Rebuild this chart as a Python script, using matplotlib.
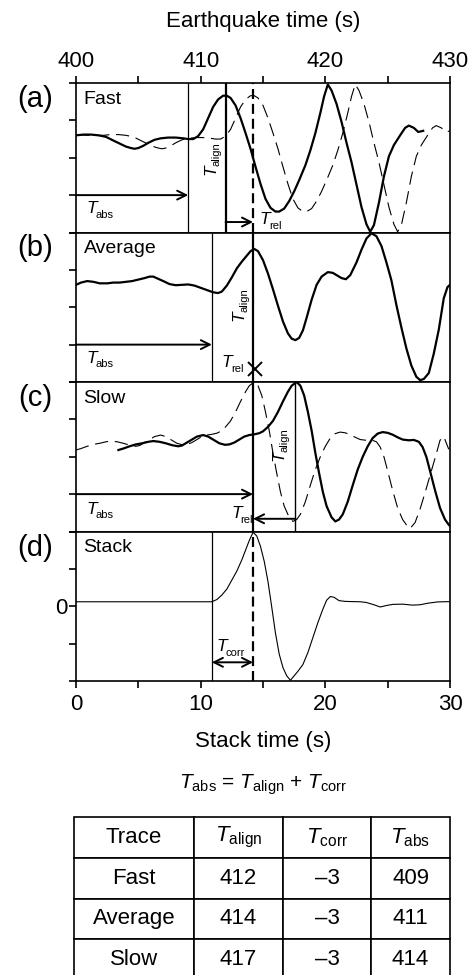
import matplotlib
matplotlib.use("Agg")
import matplotlib.pyplot as plt
import numpy as np

plt.rcParams["font.family"] = ["Liberation Sans", "DejaVu Sans"]
plt.rcParams["mathtext.fontset"] = "custom"
plt.rcParams["mathtext.rm"] = "Liberation Sans"
plt.rcParams["mathtext.it"] = "Liberation Sans:italic"

# stack time (s) = earthquake time - 400
T0 = 400

# traces, normalised amplitude (-1..1)
fast_t = [-2.2, -1.2, 0.0, 0.6, 1.2, 1.8, 2.4, 3.0, 3.5, 4.0, 4.4, 4.7, 5.0, 5.4, 5.8,
          6.3, 6.8, 7.4, 8.0, 8.6, 9.0, 9.4, 9.8, 10.2, 10.6, 11.0, 11.4, 11.8, 12.1,
          12.4, 12.8, 13.2, 13.6, 14.0, 14.4, 14.8, 15.2, 15.6, 16.0, 16.3, 16.7, 17.1,
          17.5, 17.9, 18.4, 18.8, 19.2, 19.6, 19.9, 20.2, 20.5, 20.9, 21.3, 21.7, 22.1,
          22.5, 22.9, 23.3, 23.6, 23.9, 24.3, 24.7, 25.1, 25.5, 26.0, 26.4, 26.7, 27.1,
          27.45, 27.85]
fast_v = [0.31, 0.30, 0.30, 0.31, 0.31, 0.30, 0.28, 0.23, 0.19, 0.15, 0.13, 0.12, 0.13,
          0.16, 0.20, 0.24, 0.26, 0.27, 0.27, 0.26, 0.25, 0.25, 0.29, 0.38, 0.53, 0.68,
          0.78, 0.83, 0.83, 0.80, 0.70, 0.53, 0.33, 0.12, -0.12, -0.35, -0.55, -0.67,
          -0.72, -0.72, -0.68, -0.58, -0.45, -0.30, -0.10, 0.10, 0.33, 0.60, 0.82, 0.98,
          0.90, 0.72, 0.48, 0.20, -0.06, -0.36, -0.66, -0.89, -0.99, -0.90, -0.60, -0.25,
          0.02, 0.17, 0.30, 0.40, 0.43, 0.40, 0.345, 0.36]

avg_t = [0.0, 0.4, 0.9, 1.4, 1.9, 2.5, 3.0, 3.5, 4.0, 4.5, 5.0, 5.5, 5.9, 6.2, 6.6, 7.0,
         7.5, 8.0, 8.5, 9.0, 9.5, 10.0, 10.5, 11.0, 11.4, 11.7, 12.1, 12.5, 12.9, 13.3,
         13.7, 14.0, 14.3, 14.6, 15.0, 15.4, 15.8, 16.2, 16.6, 17.0, 17.3, 17.6, 17.9,
         18.2, 18.5, 18.9, 19.3, 19.7, 20.2, 20.6, 21.0, 21.3, 21.65, 22.0, 22.5, 22.9,
         23.3, 23.7, 24.1, 24.5, 24.9, 25.3, 25.7, 26.1, 26.5, 26.9, 27.3, 27.6, 27.9,
         28.3, 28.7, 29.1, 29.5, 29.8, 30.0]
avg_v = [0.30, 0.33, 0.35, 0.34, 0.32, 0.32, 0.33, 0.33, 0.34, 0.35, 0.37, 0.39, 0.41,
         0.41, 0.38, 0.35, 0.31, 0.295, 0.30, 0.305, 0.29, 0.26, 0.23, 0.20, 0.19, 0.21,
         0.29, 0.40, 0.52, 0.61, 0.69, 0.75, 0.78, 0.75, 0.63, 0.45, 0.24, 0.02, -0.19,
         -0.35, -0.42, -0.44, -0.41, -0.31, -0.14, 0.10, 0.30, 0.41, 0.47, 0.46, 0.42,
         0.39, 0.375, 0.43, 0.60, 0.77, 0.92, 0.99, 0.95, 0.82, 0.60, 0.36, 0.03, -0.27,
         -0.55, -0.78, -0.93, -0.975, -0.96, -0.88, -0.62, -0.30, 0.12, 0.27, 0.30]

slow_t = [3.4, 3.8, 4.3, 4.8, 5.3, 5.8, 6.2, 6.7, 7.2, 7.7, 8.2, 8.5, 8.9, 9.3, 9.7, 10.2,
          10.6, 11.0, 11.5, 11.95, 12.3, 12.7, 13.1, 13.5, 13.9, 14.3, 14.7, 15.0, 15.4,
          15.8, 16.2, 16.6, 17.0, 17.3, 17.7, 18.0, 18.3, 18.6, 18.9, 19.2, 19.5, 19.8,
          20.1, 20.5, 20.8, 21.1, 21.4, 21.8, 22.2, 22.6, 23.0, 23.4, 23.8, 24.2, 24.6,
          25.0, 25.4, 25.8, 26.2, 26.7, 27.1, 27.5, 27.8, 28.1, 28.4, 28.8, 29.2, 29.6,
          29.9, 30.2, 30.6, 31.0, 31.4, 31.8, 32.2, 32.6, 32.9, 33.3]
slow_v = [0.09, 0.11, 0.14, 0.165, 0.18, 0.20, 0.21, 0.20, 0.18, 0.155, 0.14, 0.15, 0.19,
          0.23, 0.27, 0.29, 0.27, 0.23, 0.18, 0.16, 0.165, 0.19, 0.23, 0.27, 0.29, 0.30,
          0.315, 0.34, 0.40, 0.48, 0.60, 0.74, 0.87, 0.95, 1.00, 0.95, 0.82, 0.60, 0.35,
          0.05, -0.22, -0.47, -0.66, -0.81, -0.865, -0.84, -0.77, -0.60, -0.38, -0.17,
          0.00, 0.14, 0.25, 0.31, 0.33, 0.32, 0.295, 0.26, 0.23, 0.22, 0.225, 0.20, 0.13,
          0.00, -0.19, -0.45, -0.685, -0.84, -0.91, -0.96, -0.88, -0.70, -0.48, -0.25,
          -0.02, 0.22, 0.27, 0.10]

stack_t = [0.0, 5.0, 10.9, 11.3, 11.7, 12.1, 12.5, 12.9, 13.3, 13.6, 13.9, 14.2, 14.5,
           14.8, 15.1, 15.4, 15.7, 16.0, 16.3, 16.6, 16.9, 17.2, 17.5, 17.8, 18.2, 18.6,
           19.0, 19.4, 19.8, 20.1, 20.4, 20.7, 21.1, 21.6, 22.2, 22.8, 23.3, 23.9, 24.4,
           24.9, 25.4, 26.2, 27.0, 27.6, 28.2, 29.0, 30.0]
stack_v = [0.06, 0.06, 0.06, 0.09, 0.15, 0.23, 0.35, 0.47, 0.62, 0.75, 0.88, 0.99, 0.94,
           0.80, 0.60, 0.33, -0.01, -0.36, -0.64, -0.82, -0.93, -0.99, -0.93, -0.87,
           -0.78, -0.62, -0.42, -0.22, -0.04, 0.08, 0.13, 0.12, 0.075, 0.065, 0.062, 0.06,
           0.05, 0.02, -0.01, 0.01, 0.025, 0.028, 0.015, 0.02, 0.04, 0.058, 0.062]

# picks (stack time, s)
t_abs = [9.0, 10.9, 14.2]
t_align = [12.0, 14.2, 17.6]
t_ref = 14.2        # stack peak
t_onset = 10.9      # start of stack pulse

# table
tbl_cols = [r"Trace", r"$T_{\rm align}$", r"$T_{\rm corr}$", r"$T_{\rm abs}$"]
tbl_traces = ["Fast", "Average", "Slow"]
tbl_align = ["412", "414", "417"]
tbl_corr = ["\u20133", "\u20133", "\u20133"]
tbl_abs = ["409", "411", "414"]

W, H = 470, 975
fig = plt.figure(figsize=(W / 100, H / 100), dpi=100)

left = 76 / W
width = (450 - 76) / W
ph = 149.5
tops = [83, 83 + ph, 83 + 2 * ph, 83 + 3 * ph]
axes = []
for top in tops:
    ax = fig.add_axes([left, 1 - (top + ph) / H, width, ph / H])
    axes.append(ax)

LW_FRAME = 1.2
FS = 16
for ax in axes:
    ax.set_xlim(0, 30)
    ax.set_ylim(-1, 1)
    for s in ax.spines.values():
        s.set_linewidth(LW_FRAME)
    ax.set_yticks([-1, -0.5, 0, 0.5, 1])
    ax.tick_params(axis="y", direction="out", length=5, width=LW_FRAME, labelleft=False,
                   labelsize=FS, pad=1)
    ax.tick_params(axis="x", bottom=False, labelbottom=False)

ax_a, ax_b, ax_c, ax_d = axes

# top axis: earthquake time
ax_a.set_xticks(np.arange(0, 31, 5))
ax_a.set_xticklabels([str(T0 + int(x)) if x % 10 == 0 else "" for x in np.arange(0, 31, 5)])
ax_a.tick_params(axis="x", top=True, labeltop=True, bottom=False, labelbottom=False,
                 direction="out", length=5, width=LW_FRAME, labelsize=FS, pad=3)
ax_a.xaxis.set_label_position("top")
ax_a.set_xlabel("Earthquake time (s)", fontsize=FS, labelpad=17)

# bottom axis: stack time
ax_d.set_xticks(np.arange(0, 31, 5))
ax_d.set_xticklabels([str(int(x)) if x % 10 == 0 else "" for x in np.arange(0, 31, 5)])
ax_d.tick_params(axis="x", bottom=True, labelbottom=True, direction="out", length=5,
                 width=LW_FRAME, labelsize=FS, pad=4)
ax_d.set_xlabel("Stack time (s)", fontsize=FS, labelpad=12)
ax_d.set_yticklabels(["", "", "0", "", ""])
ax_d.tick_params(axis="y", labelleft=True)

LW_TR = 1.6
LW_THIN = 0.9
LW_THICK = 1.6
dash_thin = (0, (12, 6))
dash_ref = (0, (4.5, 2.2))

arrow = dict(arrowstyle="->", color="k", lw=1.4, shrinkA=0, shrinkB=0, mutation_scale=16)


def tlabel(ax, x, y, sub, rot=0, size=12.5):
    # italic T with a small subscript; (x, y) is the T's baseline start
    ax.annotate("T", (x, y), fontsize=size, style="italic", ha="left", va="baseline",
                rotation=rot, rotation_mode="anchor")
    dx, dy = 6.6, -3.4
    if rot == 90:
        dx, dy = -dy, dx
    ax.annotate(sub, (x, y), xytext=(dx, dy), textcoords="offset points", fontsize=8,
                ha="left", va="baseline", rotation=rot, rotation_mode="anchor")


# panel labels and names
for ax, lab, name in zip(axes, ["(a)", "(b)", "(c)", "(d)"], tbl_traces + ["Stack"]):
    ax.text(-0.11, 1 - 16 / ph, lab, transform=ax.transAxes, fontsize=21,
            ha="center", va="center")
    ax.text(0.6, 0.78, name, fontsize=14, ha="left", va="center")

# (a) fast
ax_a.plot(fast_t, fast_v, color="k", lw=LW_TR)
shift_a = t_ref - t_align[0]
ax_a.plot([t + shift_a for t in fast_t], fast_v, color="k", lw=0.8, ls=dash_thin)
ax_a.axvline(t_abs[0], color="k", lw=LW_THIN)
ax_a.axvline(t_align[0], color="k", lw=LW_THICK)
ax_a.axvline(t_ref, color="k", lw=LW_THICK, ls=dash_ref)
ax_a.annotate("", xy=(t_abs[0], -0.5), xytext=(0, -0.5), arrowprops=arrow)
ax_a.annotate("", xy=(t_ref, -0.86), xytext=(t_align[0], -0.86), arrowprops=arrow)
tlabel(ax_a, 0.86, -0.74, "abs")
tlabel(ax_a, 11.15, -0.23, "align", rot=90)
tlabel(ax_a, 14.75, -0.89, "rel")

# (b) average
ax_b.plot(avg_t, avg_v, color="k", lw=LW_TR)
ax_b.axvline(t_abs[1], color="k", lw=LW_THIN)
ax_b.axvline(t_align[1], color="k", lw=LW_THICK)
ax_b.annotate("", xy=(t_abs[1], -0.5), xytext=(0, -0.5), arrowprops=arrow)
ax_b.plot([t_ref + 0.15], [-0.83], marker="x", color="k", ms=10, mew=1.4)
tlabel(ax_b, 0.86, -0.74, "abs")
tlabel(ax_b, 13.4, -0.18, "align", rot=90)
tlabel(ax_b, 11.68, -0.80, "rel")

# (c) slow
ax_c.plot(slow_t, slow_v, color="k", lw=LW_TR)
shift_c = t_ref - t_align[2]
ax_c.plot([t + shift_c for t in slow_t], slow_v, color="k", lw=0.8, ls=dash_thin)
ax_c.axvline(t_abs[2], color="k", lw=LW_THICK)
ax_c.axvline(t_align[2], color="k", lw=1.0)
ax_c.annotate("", xy=(t_abs[2], -0.5), xytext=(0, -0.5), arrowprops=arrow)
ax_c.annotate("", xy=(t_ref, -0.83), xytext=(t_align[2], -0.83), arrowprops=arrow)
tlabel(ax_c, 0.86, -0.76, "abs")
tlabel(ax_c, 16.6, -0.06, "align", rot=90)
tlabel(ax_c, 12.45, -0.82, "rel")

# (d) stack
ax_d.plot(stack_t, stack_v, color="k", lw=0.8)
ax_d.axvline(t_onset, color="k", lw=LW_THIN)
ax_d.axvline(t_ref, color="k", lw=LW_THICK, ls=dash_ref)
ax_d.annotate("", xy=(t_ref, -0.75), xytext=(t_onset, -0.75),
              arrowprops=dict(arrow, arrowstyle="<->"))
tlabel(ax_d, 11.23, -0.6, "corr")

# formula and table
fig.text(263 / W, 1 - 785 / H, r"$T_{\rm abs}$ = $T_{\rm align}$ + $T_{\rm corr}$",
         fontsize=15, ha="center", va="center")

tax = fig.add_axes([74 / W, 1 - 980 / H, 376 / W, 163 / H])
tax.axis("off")
rows = [list(r) for r in zip(tbl_traces, tbl_align, tbl_corr, tbl_abs)]
tbl = tax.table(cellText=rows, colLabels=tbl_cols, cellLoc="center",
                colWidths=[120 / 376, 89 / 376, 88 / 376, 79 / 376], bbox=[0, 0, 1, 1])
tbl.auto_set_font_size(False)
tbl.set_fontsize(16)
for cell in tbl.get_celld().values():
    cell.set_linewidth(LW_FRAME)

fig.savefig("out.png", dpi=100)
